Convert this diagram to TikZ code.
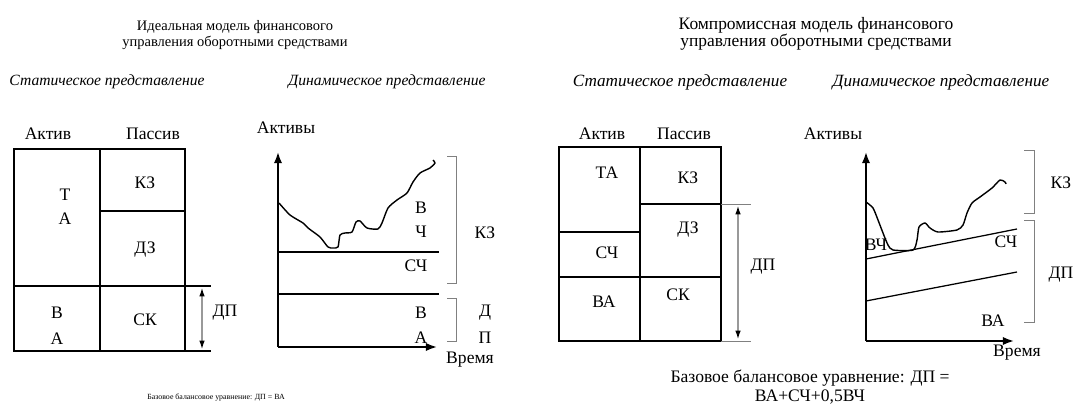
\documentclass[tikz,border=0pt]{standalone}
\usepackage{fontspec}
\setmainfont{Liberation Serif}
\usetikzlibrary{arrows.meta}
\tikzset{
  box/.style={line width=1.3pt},
  brk/.style={gray,line width=0.7pt},
  axis/.style={line width=1.4pt,-{Latex[length=8pt,width=6pt]}},
  dim/.style={gray!80,line width=0.8pt,{Latex[length=6pt,width=4pt,black]}-{Latex[length=6pt,width=4pt,black]}},
  lbl/.style={font=\fontsize{12.5}{13}\selectfont,inner sep=0pt},
  ttl/.style={font=\fontsize{10.3}{11}\selectfont,align=center,inner sep=0pt},
  sub/.style={font=\fontsize{11.1}{12}\itshape\selectfont,inner sep=0pt}
}
\begin{document}
\begin{tikzpicture}[x=0.025cm,y=-0.025cm]
\useasboundingbox (0,0) rectangle (1086,412);
% left: ideal model
\node[ttl](tA) at (235,35){Идеальная модель финансового\\управления оборотными средствами};
\node[sub](sA) at (107,82){Статическое представление};
\node[sub](dA) at (387,82){Динамическое представление};
\node[lbl](akA) at (48,134){Актив};
\node[lbl](paA) at (153,134){Пассив};
\draw[box](14,149)rectangle(185,351);
\draw[box](100,149)--(100,351);
\draw[box](100,211)--(185,211);
\draw[box](14,286)--(211,286);
\draw[box](185,351)--(211,351);
\draw[dim](202,288)--(202,349);
\node[lbl](dpA) at (225,313){ДП};
\node[lbl] at (65,195){Т};
\node[lbl] at (65,219){А};
\node[lbl] at (145,183){КЗ};
\node[lbl] at (145,250){ДЗ};
\node[lbl] at (57,313){В};
\node[lbl] at (57,339){А};
\node[lbl] at (145,320){СК};
\node[font=\fontsize{5.6}{6}\selectfont,inner sep=0pt](eqA) at (216,398){Базовое балансовое уравнение: ДП = ВА};
% left chart
\coordinate(oA) at (278,347);
\node[lbl](yA) at (286,128){Активы};
\draw[axis](oA)--(278,152);
\draw[axis](oA)--(437,347);
\node[lbl](tmA) at (470,360){Время};
\draw[box](278,252)--(439,252);
\draw[box](278,294)--(439,294);
\draw[line width=1pt,line join=round] plot[smooth,tension=0.4] coordinates{(279,203)(290,215)(303,223)(308,228)(320,237)(328,247)(333,248)(338,247)(340,235)(345,233)(352,232)(356,222)(360,221)(367,228)(378,229)(382,223)(388,208)(397,200)(407,193)(413,182)(420,173)(430,168)(435,163)(433,160)};
\node[lbl] at (421,208){В};
\node[lbl] at (421,232){Ч};
\node[lbl] at (416,266){СЧ};
\node[lbl] at (421,313){В};
\node[lbl] at (421,338){А};
\draw[brk](447,156)-|(456,283)--(447,283);
\draw[brk](447,298)-|(456,341)--(447,341);
\node[lbl] at (485,233){КЗ};
\node[lbl] at (485,313){Д};
\node[lbl] at (485,338){П};
% right: compromise model
\node[ttl,font=\fontsize{12.4}{12.2}\selectfont](tB) at (816,34){Компромиссная модель финансового\\управления оборотными средствами};
\node[sub,font=\fontsize{12.2}{13}\itshape\selectfont](sB) at (680,82){Статическое представление};
\node[sub,font=\fontsize{12.2}{13}\itshape\selectfont](dB) at (941,82){Динамическое представление};
\node[lbl](akB) at (602,134){Актив};
\node[lbl](paB) at (684,134){Пассив};
\draw[box](559,147)rectangle(721,341);
\draw[box](640,147)--(640,341);
\draw[box](559,277)--(721,277);
\draw[box](559,232)--(640,232);
\draw[box](640,204)--(721,204);
\draw[brk](721,204)--(751,204);
\draw[brk](721,341)--(751,341);
\draw[dim](738,206)--(738,339);
\node[lbl](dpB) at (763,267){ДП};
\node[lbl] at (607,173){ТА};
\node[lbl] at (688,178){КЗ};
\node[lbl] at (607,253){СЧ};
\node[lbl] at (688,230){ДЗ};
\node[lbl] at (604,302){ВА};
\node[lbl] at (678,295){СК};
\node[lbl,align=center](eqB) at (810,387){Базовое балансовое уравнение: ДП =\\ВА+СЧ+0,5ВЧ};
% right chart
\coordinate(oB) at (866,341);
\node[lbl](yB) at (833,134){Активы};
\draw[axis](oB)--(866,152);
\draw[axis](oB)--(1014,341);
\node[lbl](tmB) at (1017,353){Время};
\draw[line width=0.9pt](866,259)--(1017,229);
\draw[line width=0.9pt](866,301)--(1017,272);
\draw[line width=1pt,line join=round] plot[smooth,tension=0.4] coordinates{(866,202)(873,208)(878,220)(883,233)(888,245)(893,250)(913,250)(917,240)(919,227)(925,223)(930,228)(938,232)(957,230)(963,225)(967,213)(972,203)(980,197)(992,188)(1000,180)(1005,182)(1006,184)};
\node[lbl] at (876,245){ВЧ};
\node[lbl] at (1006,242){СЧ};
\node[lbl] at (993,321){ВА};
\draw[brk](1024,150)-|(1034,213)--(1024,213);
\draw[brk](1024,220)-|(1034,322)--(1024,322);
\node[lbl] at (1061,183){КЗ};
\node[lbl] at (1061,275){ДП};
\end{tikzpicture}
\end{document}
